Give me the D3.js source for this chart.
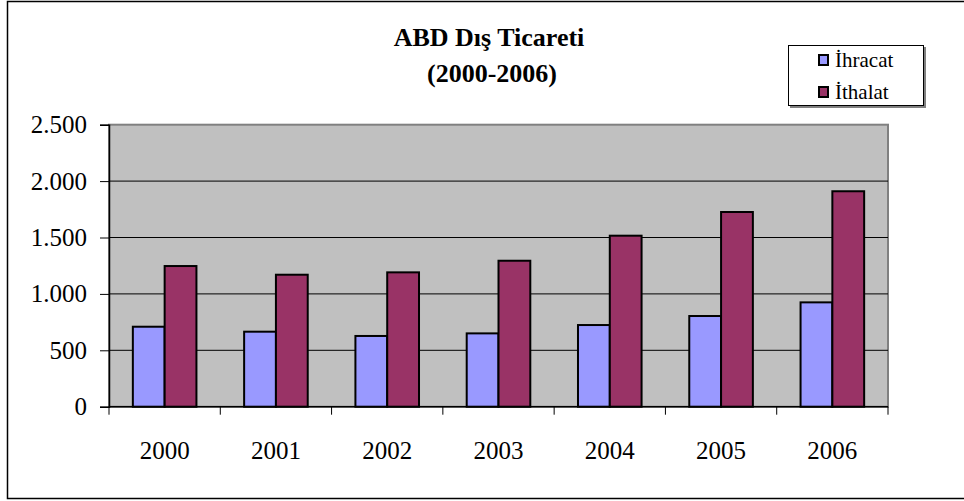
<!DOCTYPE html>
<html><head><meta charset="utf-8">
<script src="https://cdn.jsdelivr.net/npm/d3@7"></script>
<style>body{margin:0;background:#fff}svg{display:block}</style>
</head><body>
<script>
const years = ["2000","2001","2002","2003","2004","2005","2006"];
const ihracat = [709, 665, 627, 650, 724, 804, 925];
const ithalat = [1247, 1170, 1191, 1294, 1516, 1726, 1910];
const seriesNames = ["İhracat", "İthalat"];
const yTicks = [0, 500, 1000, 1500, 2000, 2500];
const colors = ["#9999ff", "#993366"];

const W = 964, H = 501;
const svg = d3.select("body").append("svg").attr("width", W).attr("height", H);
svg.append("rect").attr("x", 7.5).attr("y", 1.5).attr("width", 970).attr("height", 497)
  .attr("fill", "#fff").attr("stroke", "#000").attr("stroke-width", 1.5);

const L = 109, R = 888, T = 124.7, B = 406.7;
const x = d3.scaleBand().domain(years).range([L, R]).paddingInner(0).paddingOuter(0);
const y = d3.scaleLinear().domain([0, 2500]).range([B, T]);

svg.append("rect").attr("x", L).attr("y", T).attr("width", R - L).attr("height", B - T)
  .attr("fill", "#c0c0c0").attr("stroke", "#808080").attr("stroke-width", 2);

svg.append("g").selectAll("line").data(yTicks.filter(d => d > 0 && d < 2500)).join("line")
  .attr("x1", L).attr("x2", R).attr("y1", d => y(d)).attr("y2", d => y(d))
  .attr("stroke", "#000").attr("stroke-width", 1);

const bw = x.bandwidth() / 3.5;
const data = years.map((yr, i) => ({yr, vals: [ihracat[i], ithalat[i]]}));
const g = svg.append("g");
data.forEach(d => {
  d.vals.forEach((v, j) => {
    g.append("rect")
      .attr("x", x(d.yr) + 0.75 * bw + j * bw)
      .attr("y", y(v))
      .attr("width", bw).attr("height", y(0) - y(v))
      .attr("fill", colors[j]).attr("stroke", "#000").attr("stroke-width", 2);
  });
});

const af = "Liberation Serif, Times New Roman, serif";
// axes
const yAxis = svg.append("g").attr("transform", `translate(${L},0)`)
  .call(d3.axisLeft(y).tickValues(yTicks).tickSize(9).tickPadding(13)
    .tickFormat(d => d3.format(",")(d).replace(/,/g, ".")));
yAxis.attr("font-size", null).attr("font-family", null);
yAxis.select(".domain").attr("stroke", "#000").attr("stroke-width", 1.5);
yAxis.selectAll("line").attr("stroke", "#000");
yAxis.selectAll("text").style("font-family", af).style("font-size", "25px").attr("fill", "#000");

const xAxis = svg.append("g").attr("transform", `translate(0,${B})`);
xAxis.append("line").attr("x1", L).attr("x2", R).attr("y1", 0).attr("y2", 0).attr("stroke", "#000").attr("stroke-width", 1.5);
xAxis.selectAll(".tk").data(years.concat(["end"])).join("line")
  .attr("x1", (d, i) => L + i * x.step()).attr("x2", (d, i) => L + i * x.step())
  .attr("y1", 0).attr("y2", 8).attr("stroke", "#000");
xAxis.selectAll("text").data(years).join("text")
  .attr("x", d => x(d) + x.bandwidth() / 2).attr("y", 52)
  .attr("text-anchor", "middle").style("font-family", af).style("font-size", "25px")
  .text(d => d);

// title
svg.append("text").attr("x", 489).attr("y", 46).attr("text-anchor", "middle")
  .style("font-family", af).attr("font-weight", "bold").style("font-size", "26px").text("ABD Dış Ticareti");
svg.append("text").attr("x", 492).attr("y", 82).attr("text-anchor", "middle")
  .style("font-family", af).attr("font-weight", "bold").style("font-size", "26px").text("(2000-2006)");

// legend
const lg = svg.append("g");
lg.append("rect").attr("x", 790).attr("y", 47).attr("width", 136).attr("height", 61).attr("fill", "#808080");
lg.append("rect").attr("x", 788.5).attr("y", 45.5).attr("width", 135).attr("height", 60)
  .attr("fill", "#fff").attr("stroke", "#000").attr("stroke-width", 1);
seriesNames.forEach((n, i) => {
  const yy = 67 + i * 32;
  lg.append("rect").attr("x", 819).attr("y", yy - 12).attr("width", 9).attr("height", 10)
    .attr("fill", colors[i]).attr("stroke", "#000").attr("stroke-width", 2);
  lg.append("text").attr("x", 835).attr("y", yy).style("font-family", af).style("font-size", "21px").text(n);
});
</script>
</body></html>
